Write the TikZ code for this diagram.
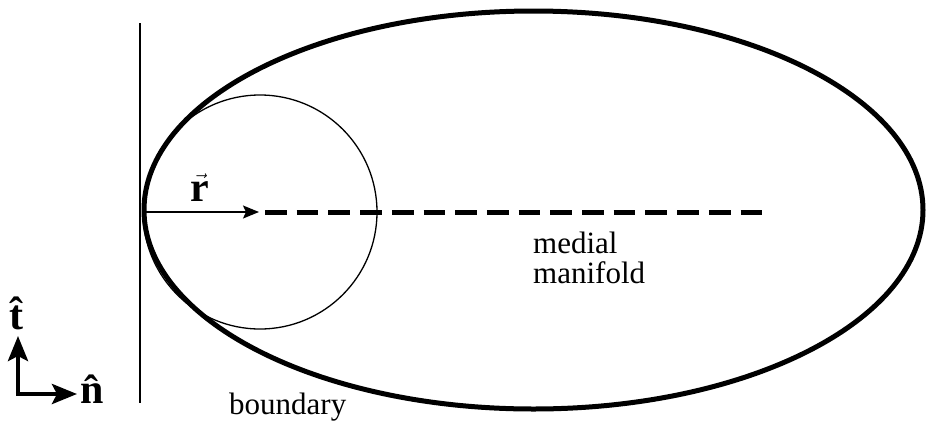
\documentclass[tikz,border=0pt]{standalone}
\usepackage{fontspec}
\setmainfont{Liberation Serif}
\usetikzlibrary{arrows.meta}
\tikzset{
  lbl/.style={inner sep=0pt, font=\fontsize{31}{31}\selectfont},
  blbl/.style={inner sep=0pt, font=\fontsize{42}{42}\selectfont\bfseries},
  axisarrow/.style={line width=4.3pt, -{Stealth[length=25pt,width=20pt,inset=5pt]}},
}
\begin{document}
\begin{tikzpicture}[x=1pt,y=-1pt]
\useasboundingbox (0,0) rectangle (927,424);
% vertical tangent line
\coordinate (vtop) at (140,23);
\coordinate (vbot) at (140,403);
\draw[line width=2pt] (vtop) -- (vbot);
% ellipse boundary
\draw[line width=5pt] (533.5,210) ellipse [x radius=389.5, y radius=199];
% inscribed circle
\draw[line width=1.3pt] (260,212) circle [radius=117];
% radius vector
\coordinate (rs) at (143,212);
\coordinate (re) at (259,212);
\draw[line width=1.6pt, -{Stealth[length=16pt,width=13pt,inset=3pt]}] (rs) -- (re);
% medial manifold dashed
\coordinate (ms) at (265,212);
\coordinate (me) at (767,212);
\draw[line width=5pt, dash pattern=on 21.7pt off 10pt] (ms) -- (me);
% labels
\node[blbl, anchor=base] (rlab) at (200,201) {$\vec{\textbf{r}}$};
\node[lbl, anchor=base west] (medial) at (533,253) {medial};
\node[lbl, anchor=base west] (manifold) at (533,283) {manifold};
\node[lbl, anchor=base west] (boundary) at (229,414) {boundary};
% axes
\coordinate (o) at (18,394);
\coordinate (tt) at (18,336);
\coordinate (nt) at (77,394);
\draw[axisarrow] (o) -- (tt);
\draw[axisarrow] ([xshift=-2.15pt]o) -- (nt);
\node[blbl, anchor=base] (that) at (16,329) {\^{t}};
\node[blbl, anchor=base west] (nhat) at (80,403) {\^{n}};
\end{tikzpicture}
\end{document}
